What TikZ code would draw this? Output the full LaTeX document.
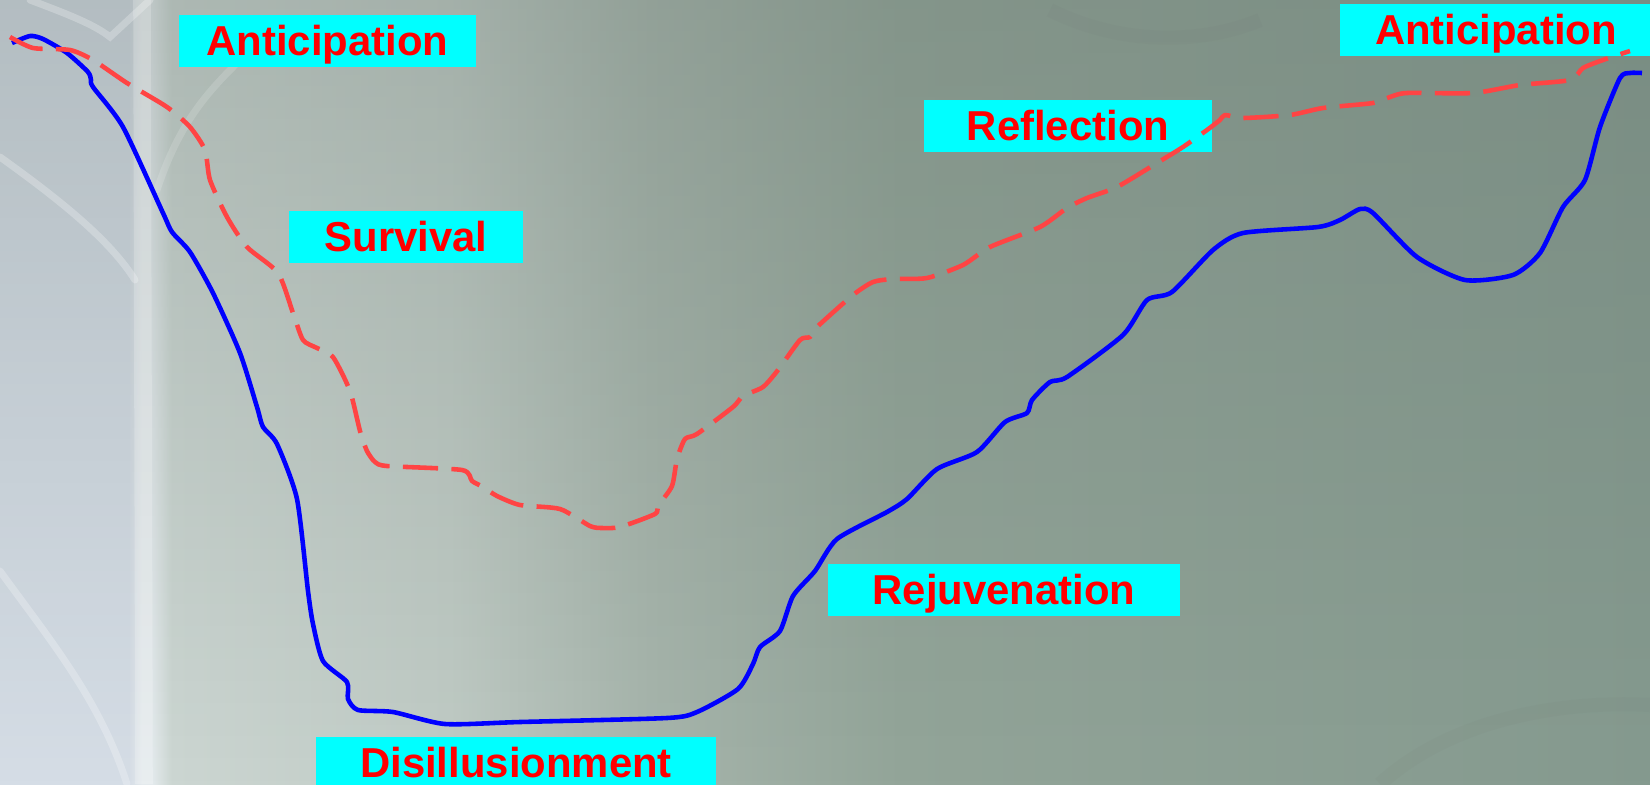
\documentclass[tikz,border=0pt]{standalone}
\usepackage{fontspec}
\setmainfont{Liberation Sans}
\usetikzlibrary{fadings}
\definecolor{frost}{HTML}{D5DDE6}
\definecolor{frostedge}{HTML}{E4EAED}
\definecolor{glass}{HTML}{CCD6D2}
\definecolor{pale}{HTML}{C0CBC5}
\definecolor{sage}{HTML}{A7B5AC}
\definecolor{moss}{HTML}{93A599}
\definecolor{slate}{HTML}{859A8F}
\definecolor{stagecyan}{HTML}{00FFFF}
\definecolor{stagered}{HTML}{FF0000}
\definecolor{hopeblue}{HTML}{0000FF}
\definecolor{moodred}{HTML}{FF4444}
\pgfdeclarehorizontalshading{wallshade}{100bp}{color(0bp)=(frost); color(25bp)=(frost);
  color(28.9bp)=(frost); color(29.3bp)=(frostedge); color(29.6bp)=(frostedge);
  color(30.2bp)=(glass); color(38.6bp)=(pale); color(44.7bp)=(sage);
  color(52.3bp)=(moss); color(75bp)=(slate); color(100bp)=(slate)}
\tikzfading[name=fadedown, top color=transparent!72, bottom color=transparent!100]
\tikzset{
  stagebox/.style={fill=stagecyan,text=stagered,inner sep=0pt,minimum height=0.51cm,
    font=\fontsize{11.9}{14}\selectfont\bfseries,text height=8.5pt,text depth=0pt},
  streak/.style={white,line width=2pt,opacity=0.25,line cap=round},
  realcurve/.style={hopeblue,line width=1.3pt,line join=round},
  feltcurve/.style={moodred,line width=1.3pt,dash pattern=on 10pt off 3.8pt,line join=round}
}

\begin{document}
\begin{tikzpicture}[x=0.01cm,y=-0.01cm]
  \useasboundingbox (0,0) rectangle (1650,784);
  \clip (0,0) rectangle (1650,784);
  % backdrop
  \shade[shading=wallshade] (0,0) rectangle (1650,784);
  \fill[slate!70!black,path fading=fadedown] (0,0) rectangle (1650,784);
  \draw[streak] (0,157) .. controls (60,200) and (110,240) .. (135,280);
  \draw[streak] (30,0) .. controls (70,15) and (95,25) .. (110,37) -- (150,0);
  \draw[streak] (0,571) .. controls (50,640) and (100,700) .. (127,784);
  \draw[streak,opacity=0.15] (157,190) .. controls (180,120) and (210,90) .. (240,60);
  \draw[white,line width=5pt,opacity=0.2] (142,0) -- (144,784);
  \draw[black!60,line width=4pt,opacity=0.05] (1050,10) .. controls (1120,45) and (1200,45) .. (1260,20);
  \draw[black!60,line width=4pt,opacity=0.05] (1380,784) .. controls (1450,720) and (1560,700) .. (1650,705);

  % stage labels
  \node[stagebox,minimum width=2.97cm] (ant1) at (327.5,41) {Anticipation};
  \node[stagebox,minimum width=2.34cm] (surv) at (406,237) {Survival};
  \node[stagebox,minimum width=2.88cm] (refl) at (1068,126) {Reflection};
  \node[stagebox,minimum width=3.12cm] (ant2) at (1496,30) {Anticipation};
  \node[stagebox,minimum width=3.52cm] (rejuv) at (1004,590) {Rejuvenation};
  \node[stagebox,minimum width=4.00cm] (disill) at (516,763) {Disillusionment};

  % how it goes
  \draw[realcurve] plot[smooth,tension=0.4] coordinates {
    (12,43) (30,36) (43,39) (67,53) (88,72) (91,80) (93,87) (123,127) (163,213)
    (172,232) (190,252) (213,293) (240,353) (257,407) (263,427) (277,444) (297,499)
    (308,591) (313,624) (323,661) (347,682) (348,699) (358,710) (393,712) (445,724)
    (520,722) (667,718) (697,712) (738,689) (753,664) (760,647) (780,631) (793,596)
    (815,571) (837,539) (887,512) (907,499) (937,469) (977,452) (1005,422) (1027,413)
    (1032,400) (1050,382) (1067,377) (1123,335) (1147,300) (1172,292) (1213,250)
    (1243,233) (1318,227) (1340,220) (1360,209) (1373,213) (1417,257) (1465,280)
    (1513,275) (1540,253) (1563,207) (1585,180) (1600,127) (1620,78) (1630,73) (1642,73)};
  % how it feels
  \draw[feltcurve] plot[smooth,tension=0.4] coordinates {
    (10,37) (33,48) (70,50) (93,60) (127,83) (167,107) (190,127) (205,150) (210,180)
    (227,217) (247,247) (278,273) (293,313) (303,340) (317,348) (333,357) (350,391)
    (360,431) (367,451) (375,462) (387,466) (462,470) (472,481) (483,487) (497,496)
    (520,505) (560,509) (590,526) (602,528) (620,527) (655,514) (658,506) (672,486)
    (677,459) (685,439) (697,434) (733,407) (743,396) (763,387) (778,370) (800,340)
    (810,337) (817,327) (853,295) (873,282) (893,279) (927,278) (963,265) (990,247)
    (1040,227) (1067,208) (1087,198) (1117,187) (1157,163) (1183,147) (1207,130)
    (1220,120) (1225,115) (1243,118) (1290,115) (1323,108) (1373,103) (1390,97)
    (1407,93) (1473,93) (1520,85) (1570,80) (1583,68) (1603,60) (1630,51)};
\end{tikzpicture}
\end{document}
